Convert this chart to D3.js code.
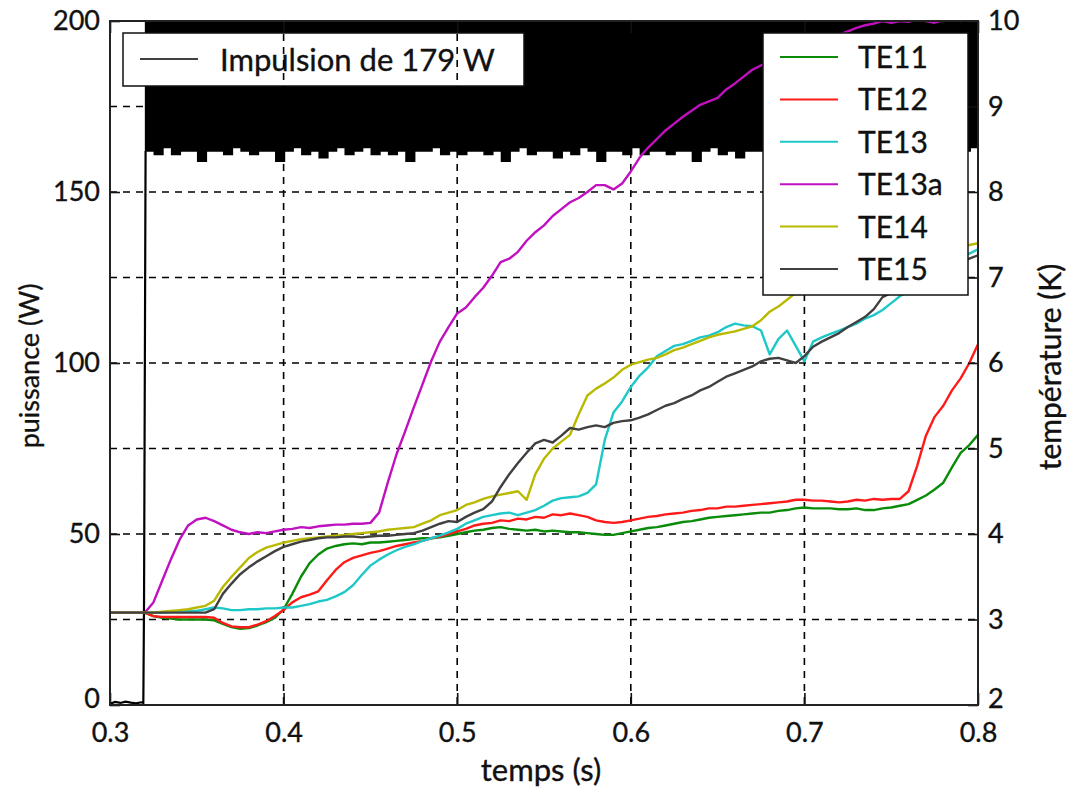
<!DOCTYPE html>
<html>
<head>
<meta charset="utf-8">
<script src="https://cdn.jsdelivr.net/npm/d3@7"></script>
<style>
  body { margin: 0; background: #fff; }
  text { font-family: Lato, "Noto Sans", sans-serif; fill: #111; stroke: #111; stroke-width: 0.35px; }
</style>
</head>
<body>
<svg id="graphe" width="1069" height="789"></svg>
<script>
// temps en s, pas de 0.005 de 0.3 a 0.8
const temps = d3.range(101).map(i => +(0.3 + i * 0.005).toFixed(3));

// températures (K)
const TE11 = [3.08,3.08,3.08,3.08,3.08,3.04,3.02,3.01,3.0,3.0,
  3.0,3.0,2.99,2.95,2.91,2.89,2.9,2.93,2.97,3.02,
  3.12,3.3,3.5,3.66,3.76,3.83,3.86,3.88,3.89,3.88,
  3.9,3.9,3.91,3.92,3.93,3.94,3.95,3.95,3.96,3.98,
  4.0,4.02,4.04,4.05,4.07,4.08,4.06,4.05,4.04,4.05,
  4.03,4.04,4.03,4.02,4.02,4.01,4.0,3.99,3.99,4.01,
  4.03,4.05,4.07,4.08,4.1,4.12,4.14,4.15,4.17,4.19,
  4.2,4.21,4.22,4.23,4.24,4.25,4.25,4.27,4.28,4.3,
  4.31,4.3,4.3,4.3,4.29,4.29,4.3,4.28,4.28,4.3,
  4.31,4.33,4.35,4.4,4.45,4.52,4.6,4.78,4.95,5.04,5.16];

const TE12 = [3.08,3.08,3.08,3.08,3.08,3.04,3.03,3.03,3.03,3.03,
  3.03,3.03,3.02,2.96,2.92,2.91,2.91,2.94,2.98,3.04,
  3.11,3.2,3.26,3.29,3.33,3.46,3.58,3.67,3.72,3.75,
  3.78,3.8,3.83,3.86,3.88,3.9,3.92,3.95,3.97,4.0,
  4.03,4.06,4.1,4.12,4.13,4.16,4.15,4.18,4.17,4.2,
  4.19,4.23,4.22,4.24,4.22,4.2,4.16,4.14,4.13,4.14,
  4.16,4.18,4.2,4.21,4.23,4.24,4.25,4.27,4.28,4.3,
  4.3,4.32,4.32,4.33,4.34,4.35,4.36,4.37,4.38,4.4,
  4.4,4.39,4.39,4.38,4.37,4.38,4.4,4.39,4.41,4.4,
  4.41,4.41,4.5,4.8,5.15,5.37,5.5,5.68,5.82,6.0,6.22];

const TE13 = [3.08,3.08,3.08,3.08,3.08,3.08,3.08,3.09,3.09,3.1,
  3.1,3.12,3.14,3.13,3.11,3.11,3.12,3.12,3.13,3.13,
  3.14,3.14,3.16,3.18,3.21,3.23,3.27,3.32,3.4,3.52,
  3.63,3.7,3.76,3.81,3.85,3.88,3.92,3.95,3.98,4.02,
  4.06,4.12,4.16,4.2,4.22,4.24,4.25,4.22,4.25,4.28,
  4.33,4.39,4.42,4.43,4.44,4.48,4.58,5.1,5.42,5.55,
  5.72,5.85,5.95,6.08,6.14,6.2,6.22,6.26,6.3,6.32,
  6.36,6.42,6.46,6.44,6.43,6.38,6.1,6.28,6.38,6.2,
  6.02,6.25,6.3,6.34,6.38,6.42,6.46,6.52,6.56,6.62,
  6.7,6.78,6.84,6.92,6.98,7.05,7.1,7.15,7.22,7.28,7.33];

const TE13a = [3.08,3.08,3.08,3.08,3.08,3.2,3.45,3.7,3.93,4.1,
  4.17,4.19,4.15,4.1,4.05,4.02,4.0,4.02,4.01,4.03,
  4.05,4.06,4.08,4.07,4.09,4.1,4.11,4.11,4.12,4.12,
  4.13,4.25,4.6,4.93,5.2,5.48,5.75,6.02,6.25,6.42,
  6.58,6.65,6.77,6.88,7.02,7.18,7.22,7.3,7.43,7.53,
  7.61,7.72,7.8,7.88,7.93,8.0,8.08,8.08,8.03,8.1,
  8.24,8.4,8.52,8.62,8.72,8.8,8.88,8.95,9.02,9.06,
  9.1,9.2,9.27,9.35,9.43,9.48,9.52,9.55,9.6,9.65,
  9.7,9.74,9.78,9.8,9.84,9.88,9.92,9.95,9.97,10.0,
  9.98,10.0,9.99,10.02,10.0,9.98,10.01,10.02,10.0,10.03,10.02];

const TE14 = [3.08,3.08,3.08,3.08,3.08,3.08,3.09,3.1,3.11,3.12,
  3.14,3.16,3.22,3.38,3.5,3.61,3.72,3.79,3.84,3.87,
  3.9,3.92,3.94,3.95,3.96,3.97,3.98,3.99,4.0,4.01,
  4.02,4.03,4.05,4.06,4.07,4.08,4.12,4.16,4.22,4.25,
  4.28,4.34,4.37,4.41,4.44,4.46,4.48,4.5,4.4,4.7,
  4.88,5.0,5.08,5.16,5.4,5.62,5.7,5.76,5.83,5.92,
  5.98,6.01,6.04,6.06,6.1,6.15,6.18,6.22,6.26,6.3,
  6.33,6.35,6.37,6.4,6.43,6.5,6.6,6.66,6.74,6.82,
  6.88,6.92,6.96,7.0,7.03,7.06,7.09,7.12,7.15,7.17,
  7.2,7.22,7.24,7.26,7.28,7.3,7.32,7.34,7.36,7.38,7.4];

const TE15 = [3.08,3.08,3.08,3.08,3.08,3.08,3.08,3.08,3.08,3.08,
  3.08,3.08,3.12,3.3,3.42,3.53,3.61,3.68,3.74,3.8,
  3.85,3.88,3.91,3.93,3.95,3.96,3.96,3.97,3.97,3.96,
  3.97,3.98,3.98,3.99,4.0,4.01,4.04,4.08,4.12,4.15,
  4.14,4.2,4.25,4.29,4.38,4.55,4.7,4.83,4.95,5.06,
  5.1,5.07,5.15,5.24,5.22,5.25,5.27,5.25,5.3,5.32,
  5.33,5.36,5.4,5.45,5.5,5.53,5.58,5.62,5.68,5.72,
  5.78,5.84,5.88,5.92,5.96,6.02,6.05,6.06,6.03,6.0,
  6.08,6.19,6.25,6.3,6.35,6.42,6.48,6.54,6.63,6.77,
  6.82,6.85,6.9,6.95,7.0,7.05,7.1,7.14,7.18,7.22,7.26];

const series = [
  { nom: "TE11", couleur: "#0a8c0a", valeurs: TE11 },
  { nom: "TE12", couleur: "#ff1a1a", valeurs: TE12 },
  { nom: "TE13", couleur: "#1ec8c8", valeurs: TE13 },
  { nom: "TE13a", couleur: "#c010c0", valeurs: TE13a },
  { nom: "TE14", couleur: "#b9b900", valeurs: TE14 },
  { nom: "TE15", couleur: "#404040", valeurs: TE15 }
];

// puissance (W) avant l'impulsion puis front montant
const impTemps = [0.300, 0.303, 0.306, 0.309, 0.312, 0.315, 0.318, 0.3192, 0.3196, 0.3205];
const impPuissance = [0.4, 0.9, 0.6, 1.0, 0.7, 0.5, 0.8, 0.6, 30, 162];

// bas de l'enveloppe de l'impulsion (W), pas de 0.005 a partir de 0.3205
const impBas = [162,161,163,161,162,162,159,162,162,161,
  163,162,161,162,162,159,162,163,161,162,
  160,162,163,161,162,163,161,162,161,162,
  159,162,162,163,161,162,161,162,162,161,
  162,159,162,163,161,162,162,160,162,161,
  163,162,159,162,162,161,163,161,162,162,
  161,162,162,159,162,163,161,162,160,162,
  162,162,160,163,161,162,159,162,162,161,
  163,162,161,162,161,162,163,160,162,162,
  159,162,162,161,162,163,161];

const ticksT = [0.3, 0.4, 0.5, 0.6, 0.7, 0.8];
const ticksP = [0, 50, 100, 150, 200];
const ticksK = [2, 3, 4, 5, 6, 7, 8, 9, 10];

const gauche = 110, droite = 978, haut = 21, bas = 705;
const svg = d3.select("#graphe");

const x = d3.scaleLinear().domain([0.3, 0.8]).range([gauche, droite]);
const yP = d3.scaleLinear().domain([0, 200]).range([bas, haut]);
const yK = d3.scaleLinear().domain([2, 10]).range([bas, haut]);

svg.append("clipPath").attr("id", "zone")
  .append("rect").attr("x", gauche).attr("y", haut)
  .attr("width", droite - gauche).attr("height", bas - haut);

// impulsion
const gImp = svg.append("g").attr("clip-path", "url(#zone)");
const bande = impBas.map((v, i) => ({ t: 0.3205 + i * 0.005, bas: v }));
gImp.append("path")
  .datum(bande)
  .attr("fill", "#000")
  .attr("stroke", "#000")
  .attr("stroke-width", 1.5)
  .attr("d", d3.area().curve(d3.curveStepAfter)
    .x(d => x(d.t)).y0(d => yP(d.bas)).y1(yP(205)));
gImp.append("path")
  .datum(impTemps.map((t, i) => [t, impPuissance[i]]))
  .attr("fill", "none")
  .attr("stroke", "#000")
  .attr("stroke-width", 2.2)
  .attr("d", d3.line().x(d => x(d[0])).y(d => yP(d[1])));

// légende de l'impulsion (sous la grille)
const leg1 = svg.append("g");
leg1.append("rect").attr("x", 123).attr("y", 33).attr("width", 401).attr("height", 53)
  .attr("fill", "#fff").attr("stroke", "#111").attr("stroke-width", 1.5);
leg1.append("line").attr("x1", 140).attr("x2", 198).attr("y1", 59).attr("y2", 59)
  .attr("stroke", "#000").attr("stroke-width", 1.5);
leg1.append("text").attr("x", 220).attr("y", 71).attr("font-size", 31).text("Impulsion de 179 W");

// grille
const grille = svg.append("g").attr("stroke", "#000").attr("stroke-width", 1.6)
  .attr("stroke-dasharray", "7,6");
grille.selectAll(".gv").data([0.4, 0.5, 0.6, 0.7]).join("line")
  .attr("x1", d => x(d)).attr("x2", d => x(d)).attr("y1", haut).attr("y2", bas);
grille.selectAll(".gh").data(ticksK.slice(1, -1)).join("line")
  .attr("y1", d => yK(d)).attr("y2", d => yK(d)).attr("x1", gauche).attr("x2", droite);

// températures
const ligne = d3.line().x((d, i) => x(temps[i])).y(d => yK(d));
svg.append("g").attr("clip-path", "url(#zone)")
  .selectAll("path").data(series).join("path")
  .attr("fill", "none")
  .attr("stroke", d => d.couleur)
  .attr("stroke-width", 2.4)
  .attr("stroke-linejoin", "round")
  .attr("d", d => ligne(d.valeurs));

// légende des capteurs
const leg2 = svg.append("g");
leg2.append("rect").attr("x", 763).attr("y", 33).attr("width", 205).attr("height", 262)
  .attr("fill", "#fff").attr("stroke", "#111").attr("stroke-width", 1.5);
series.forEach((s, i) => {
  const yy = 57 + i * 42.4;
  leg2.append("line").attr("x1", 780).attr("x2", 838).attr("y1", yy).attr("y2", yy)
    .attr("stroke", s.couleur).attr("stroke-width", 2);
  leg2.append("text").attr("x", 858).attr("y", yy + 11).attr("font-size", 30).text(s.nom);
});

// axes
const styleAxe = g => {
  g.select(".domain").remove();
  g.selectAll("line").attr("stroke", "#111").attr("stroke-width", 1.6);
  g.selectAll("text").attr("font-size", 27).attr("font-family", "Lato, sans-serif");
};
svg.append("g").attr("transform", `translate(0,${bas})`)
  .call(d3.axisBottom(x).tickValues(ticksT).tickFormat(d3.format(".1f")).tickSize(-12).tickPadding(18))
  .call(styleAxe);
svg.append("g").attr("transform", `translate(0,${haut})`)
  .call(d3.axisTop(x).tickValues(ticksT).tickFormat("").tickSize(-12))
  .call(styleAxe);
const axeP = svg.append("g").attr("transform", `translate(${gauche},0)`)
  .call(d3.axisLeft(yP).tickValues(ticksP).tickSize(-10).tickPadding(10))
  .call(styleAxe);
const axeK = svg.append("g").attr("transform", `translate(${droite},0)`)
  .call(d3.axisRight(yK).tickValues(ticksK).tickSize(-10).tickPadding(10))
  .call(styleAxe);
// les étiquettes du coin bas remontent un peu
axeP.selectAll(".tick text").filter(d => d === 0).attr("dy", "0.1em");
axeK.selectAll(".tick text").filter(d => d === 2).attr("dy", "0.1em");

svg.append("rect").attr("x", gauche).attr("y", haut)
  .attr("width", droite - gauche).attr("height", bas - haut)
  .attr("fill", "none").attr("stroke", "#222").attr("stroke-width", 2);

// titres des axes
svg.append("text").attr("x", 541).attr("y", 781)
  .attr("text-anchor", "middle").attr("font-size", 31).text("temps (s)");
svg.append("text").attr("transform", "translate(39,366) rotate(-90)")
  .attr("text-anchor", "middle").attr("font-size", 27).text("puissance (W)");
svg.append("text").attr("transform", "translate(1061,367) rotate(-90)")
  .attr("text-anchor", "middle").attr("font-size", 30).text("température (K)");
</script>
</body>
</html>
